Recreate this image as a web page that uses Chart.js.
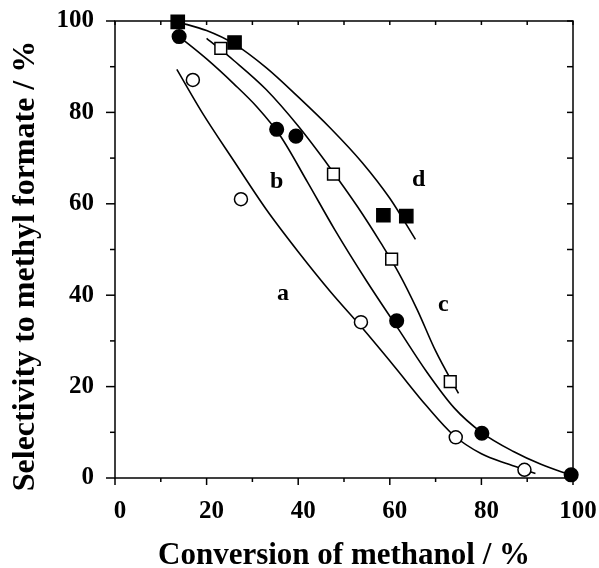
<!DOCTYPE html>
<html>
<head>
<meta charset="utf-8">
<script src="https://cdn.jsdelivr.net/npm/chart.js@4.4.1/dist/chart.umd.min.js"></script>
<style>
  body { margin: 0; background: #fff; }
  #wrap { width: 599px; height: 568px; }
</style>
</head>
<body>
<div id="wrap"><canvas id="selChart" width="599" height="568"></canvas></div>
<script>
// measured points (conversion %, selectivity %)
var convA = [17.0, 27.5, 53.7, 74.4, 89.4];
var selA = [87.1, 61.0, 34.1, 8.9, 1.8];
var convB = [14.0, 35.3, 39.5, 61.5, 80.1, 99.6];
var selB = [96.6, 76.3, 74.8, 34.4, 9.8, 0.7];
var convC = [23.1, 47.7, 60.4, 73.2];
var selC = [94.0, 66.5, 47.9, 21.1];
var convD = [13.7, 26.1, 58.6, 63.6];
var selD = [99.8, 95.3, 57.5, 57.3];

// fitted curves
var fitConvA = [13.5, 19, 26, 33, 40, 47, 54, 61, 68, 74, 80, 86, 91.8];
var fitSelA = [89.4, 80.0, 69.3, 58.8, 49.5, 40.8, 32.8, 24.4, 15.8, 9.3, 5.3, 3.0, 1.0];
var fitConvB = [14, 20, 26, 31, 36, 42, 48, 55, 62, 68, 74, 80, 87, 93, 99.6];
var fitSelB = [96.6, 91.7, 86.2, 81.2, 75.0, 64.8, 54.3, 43.0, 32.4, 23.3, 15.4, 10.0, 5.8, 3.0, 0.6];
var fitConvC = [20, 26, 33, 40, 47, 53, 58, 62, 66, 70, 75];
var fitSelC = [96.2, 91.3, 85.0, 77.0, 67.8, 59.3, 51.5, 44.8, 36.8, 27.8, 18.5];
var fitConvD = [13.7, 20, 26, 33, 40, 47, 54, 60, 65.6];
var fitSelD = [99.8, 97.9, 95.0, 89.8, 83.4, 76.6, 69.0, 61.2, 52.2];

var curveLabels = ["a", "b", "c", "d"];
var labelConv = [36.7, 35.3, 71.7, 66.3];
var labelSel = [40.4, 64.8, 37.9, 65.2];

var xTicks = [0, 20, 40, 60, 80, 100];
var yTicks = [0, 20, 40, 60, 80, 100];
var yTitle = "Selectivity to methyl formate / %";

function pts(xs, ys) {
    return xs.map(function(v, i) { return {x: v, y: ys[i]}; });
}

var serif = "'Liberation Serif', 'Times New Roman', serif";
Chart.defaults.font.family = serif;
Chart.defaults.color = "#000";

function fitLine(xs, ys) {
    return {
        data: pts(xs, ys),
        showLine: true,
        pointRadius: 0,
        borderColor: "#000",
        borderWidth: 1.6,
        cubicInterpolationMode: "monotone",
        fill: false,
        order: 2
    };
}

function markers(xs, ys, style, radius, filled) {
    return {
        data: pts(xs, ys),
        showLine: false,
        pointStyle: style,
        pointRadius: radius,
        pointBackgroundColor: filled ? "#000" : "#fff",
        pointBorderColor: "#000",
        pointBorderWidth: 1.5,
        clip: false,
        order: 1
    };
}

var frame = {
    id: "frame",
    beforeDatasetsDraw: function(chart) {
        var ctx = chart.ctx, a = chart.chartArea;
        var x = chart.scales.x, y = chart.scales.y;
        ctx.save();
        ctx.strokeStyle = "#000";
        ctx.lineWidth = 1.5;
        ctx.strokeRect(a.left, a.top, a.right - a.left, a.bottom - a.top);
        function seg(x1, y1, x2, y2) {
            ctx.beginPath(); ctx.moveTo(x1, y1); ctx.lineTo(x2, y2); ctx.stroke();
        }
        for (var v = 0; v <= 100; v += 10) {
            var major = v % 20 === 0;
            var px = x.getPixelForValue(v);
            var py = y.getPixelForValue(v);
            seg(px, a.bottom, px, a.bottom + (major ? 7 : 4));
            seg(px, a.top, px, a.top + 4);
            seg(a.left - (major ? 9 : 5), py, a.left, py);
            seg(a.right - 6, py, a.right, py);
        }
        // y axis title
        ctx.fillStyle = "#000";
        ctx.font = "bold 32px " + serif;
        ctx.textAlign = "center";
        ctx.textBaseline = "middle";
        ctx.translate(26, 266);
        ctx.rotate(-Math.PI / 2);
        ctx.fillText(yTitle, 0, 0);
        ctx.restore();
    },
    afterDatasetsDraw: function(chart) {
        var ctx = chart.ctx;
        var x = chart.scales.x, y = chart.scales.y;
        ctx.save();
        ctx.fillStyle = "#000";
        ctx.font = "bold 24px " + serif;
        ctx.textAlign = "center";
        ctx.textBaseline = "middle";
        curveLabels.forEach(function(t, i) {
            ctx.fillText(t, x.getPixelForValue(labelConv[i]), y.getPixelForValue(labelSel[i]));
        });
        ctx.restore();
    }
};

new Chart("selChart", {
    type: "scatter",
    data: {
        datasets: [
            fitLine(fitConvA, fitSelA),
            fitLine(fitConvB, fitSelB),
            fitLine(fitConvC, fitSelC),
            fitLine(fitConvD, fitSelD),
            markers(convA, selA, "circle", 6.5, false),
            markers(convB, selB, "circle", 6.8, true),
            markers(convC, selC, "rect", 8.3, false),
            markers(convD, selD, "rect", 9.3, true)
        ]
    },
    options: {
        responsive: false,
        animation: false,
        layout: { padding: { top: 21, right: 26, left: 0, bottom: 0 } },
        plugins: { legend: { display: false }, tooltip: { enabled: false } },
        scales: {
            x: {
                type: "linear",
                min: 0,
                max: 100,
                afterBuildTicks: function(scale) {
                    scale.ticks = xTicks.map(function(v) { return {value: v}; });
                },
                afterFit: function(scale) {
                    scale.height = 90;
                    scale.paddingLeft = 0;
                    scale.paddingRight = 0;
                },
                ticks: { font: { size: 25, weight: "bold" }, color: "#000", padding: 19, labelOffset: 5, maxRotation: 0 },
                grid: { display: false, drawTicks: false },
                border: { display: false },
                title: {
                    display: true,
                    text: "Conversion of methanol / %",
                    font: { size: 31, weight: "bold", lineHeight: 0.75 },
                    color: "#000",
                    padding: { top: 0, bottom: 0 }
                }
            },
            y: {
                type: "linear",
                min: 0,
                max: 100,
                afterBuildTicks: function(scale) {
                    scale.ticks = yTicks.map(function(v) { return {value: v}; });
                },
                afterFit: function(scale) {
                    scale.width = 115;
                    scale.paddingTop = 0;
                    scale.paddingBottom = 0;
                },
                ticks: { font: { size: 25, weight: "bold" }, color: "#000", padding: 21 },
                grid: { display: false, drawTicks: false },
                border: { display: false },
                title: { display: false }
            }
        }
    },
    plugins: [frame]
});
</script>
</body>
</html>
